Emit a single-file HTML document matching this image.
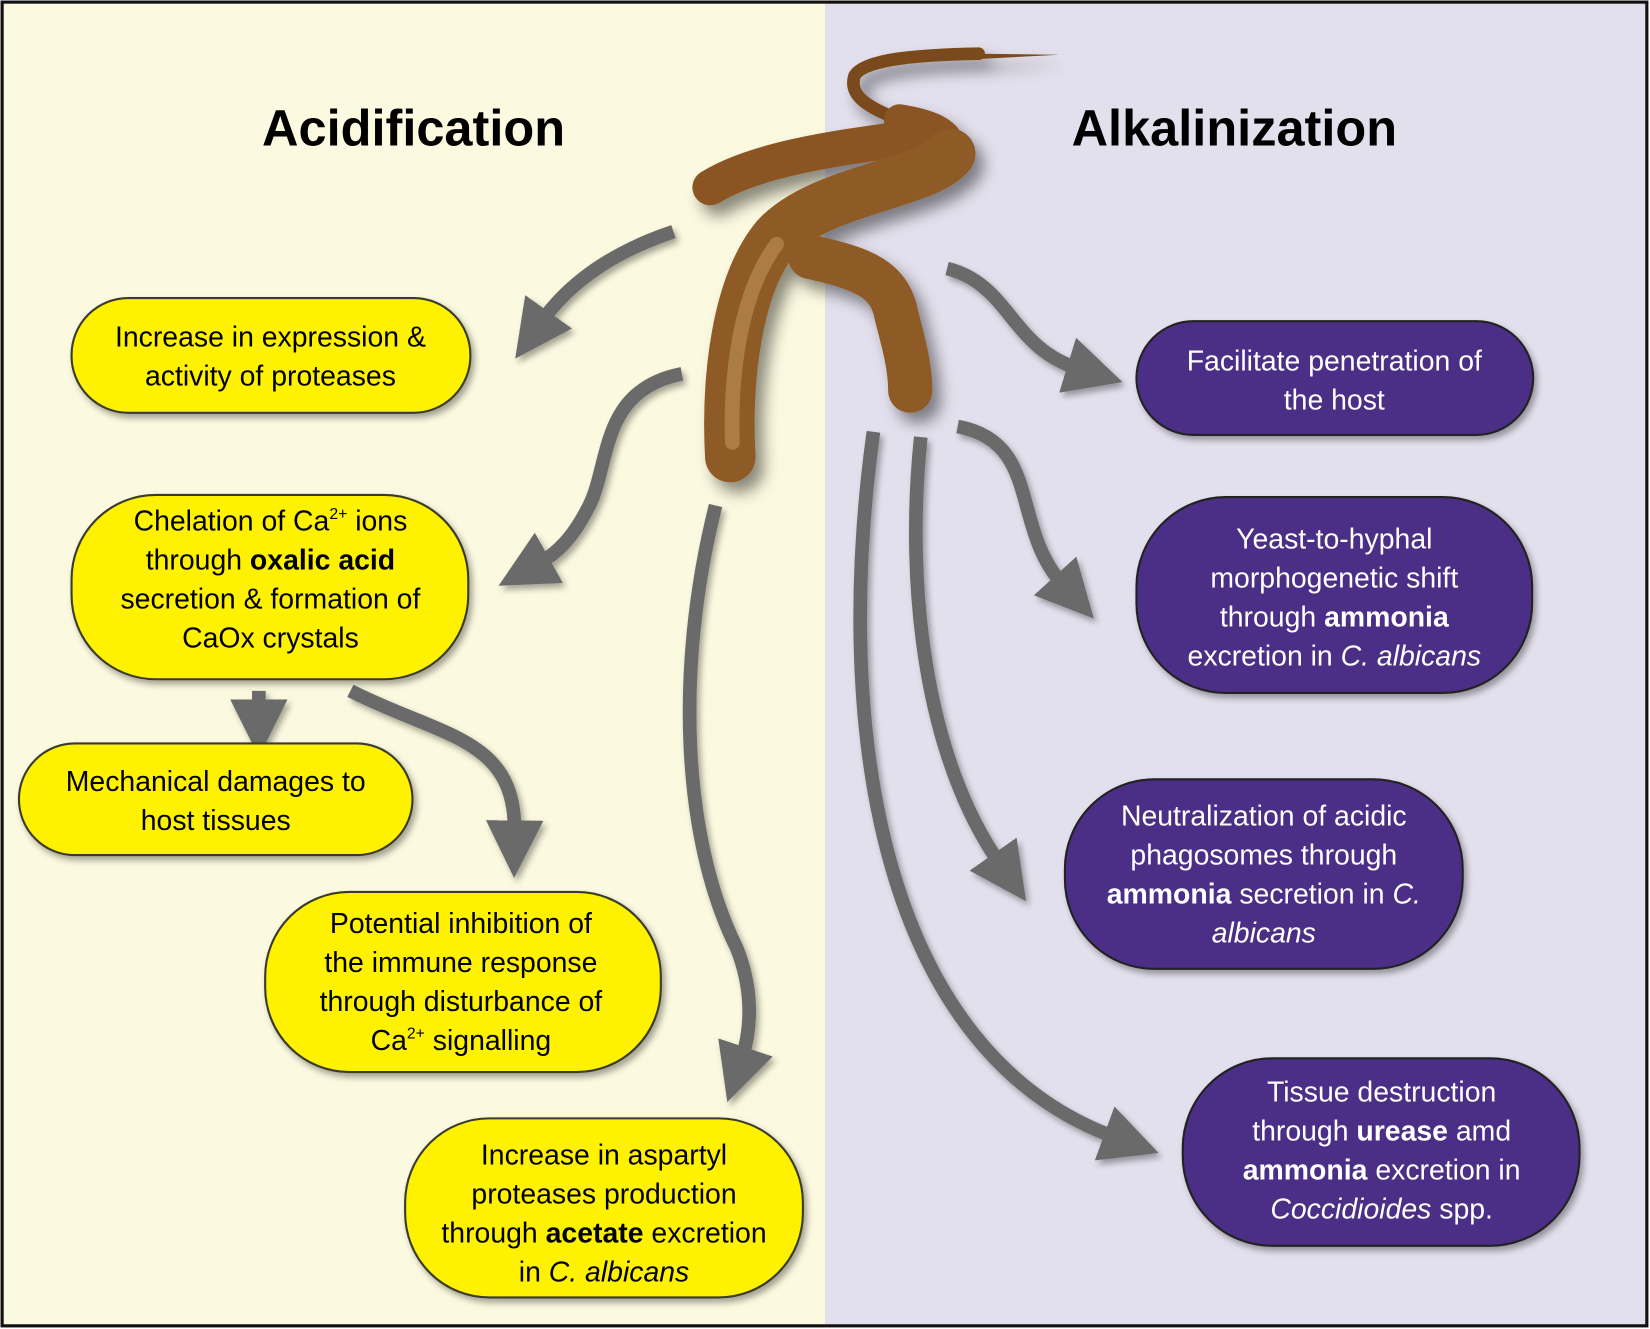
<!DOCTYPE html>
<html><head><meta charset="utf-8"><style>
html,body{margin:0;padding:0;background:#fff;}
svg{display:block;}
text{font-family:"Liberation Sans",sans-serif;}
</style></head><body>
<svg width="1650" height="1329" viewBox="0 0 1568 1262" preserveAspectRatio="none" xmlns="http://www.w3.org/2000/svg">
<defs>
<marker id="ah" viewBox="0 0 10 10" refX="2" refY="5" markerWidth="4.2" markerHeight="4.2" orient="auto" markerUnits="strokeWidth">
<path d="M0,0 L10,5 L0,10 z" fill="#6a6a6a"/>
</marker>
<filter id="sh" x="-10%" y="-10%" width="130%" height="130%"><feDropShadow dx="3" dy="4" stdDeviation="3" flood-color="#000" flood-opacity="0.35"/></filter>
<filter id="sh2" x="-20%" y="-20%" width="150%" height="150%"><feDropShadow dx="8" dy="10" stdDeviation="7" flood-color="#000" flood-opacity="0.45"/></filter>
</defs>
<rect x="0" y="0" width="1568" height="1262" fill="#fff"/>
<rect x="2" y="2" width="782" height="1257" fill="#fbf9df"/>
<rect x="784" y="2" width="782" height="1257" fill="#e3e0ed"/>
<rect x="2" y="2" width="1563" height="1257" fill="none" stroke="#111" stroke-width="3"/>

<text x="393" y="138" font-size="48" font-weight="bold" text-anchor="middle" fill="#000">Acidification</text>
<text x="1173" y="138" font-size="48" font-weight="bold" text-anchor="middle" fill="#000">Alkalinization</text>

<!-- arrows -->
<g fill="none" stroke="#6a6a6a" stroke-width="13" marker-end="url(#ah)" filter="url(#sh)">
<path d="M640,220 C580,240 540,270 515,305"/>
<path d="M648,355 C570,370 580,440 560,480 C545,510 530,525 512,535"/>
<path d="M680,480 C640,640 650,800 700,900 C720,950 710,990 705,1005"/>
<path d="M246,656 L246,675"/>
<path d="M333,656 C420,700 490,700 489,790"/>
<path d="M900,255 C960,270 960,330 1025,350"/>
<path d="M910,405 C990,420 960,500 1010,555"/>
<path d="M875,415 C860,560 880,720 950,820"/>
<path d="M830,410 C790,700 840,1000 1060,1080"/>
</g>

<!-- fungus -->
<g fill="none" stroke-linecap="round" stroke-linejoin="round" filter="url(#sh2)">
<path d="M855,114 C835,105 805,95 812,72 C822,55 880,52 930,51" stroke="#7a4a1c" stroke-width="12"/>
<path d="M930,51 L1007,52 L930,56 z" fill="#7a4a1c" stroke="none"/>
<path d="M675,178 C720,150 800,140 871,130" stroke="#8a5522" stroke-width="34"/>
<path d="M903,146 C905,125 880,118 855,114" stroke="#8a5522" stroke-width="30"/>
<path d="M770,244 C820,255 846,265 852,300 C860,330 865,350 865,371" stroke="#8e5a26" stroke-width="42"/>
<path d="M694,434 C690,360 700,270 738,225 C780,180 880,175 903,146" stroke="#8e5a26" stroke-width="48"/>
<path d="M696,420 C694,360 702,280 738,232" stroke="#c0915a" stroke-width="14" opacity="0.6"/>
</g>

<!-- yellow pills -->
<g fill="#fff200" stroke="#3a3a2a" stroke-width="2" filter="url(#sh)">
<rect x="68" y="283" width="379" height="109" rx="54"/>
<rect x="68" y="470" width="377" height="175" rx="80"/>
<rect x="18" y="706" width="374" height="106" rx="53"/>
<rect x="252" y="847" width="376" height="171" rx="80"/>
<rect x="385" y="1062" width="378" height="170" rx="80"/>
</g>
<!-- purple pills -->
<g fill="#4b2d86" stroke="#222" stroke-width="2" filter="url(#sh)">
<rect x="1080" y="305" width="377" height="108" rx="54"/>
<rect x="1080" y="472" width="376" height="186" rx="85"/>
<rect x="1012" y="740" width="378" height="180" rx="85"/>
<rect x="1124" y="1005" width="377" height="178" rx="85"/>
</g>

<g font-size="27" text-anchor="middle" fill="#000">
<text x="257" y="329">Increase in expression &amp;</text>
<text x="257" y="366">activity of proteases</text>
<text x="257" y="504">Chelation of Ca<tspan font-size="15" dy="-11">2+</tspan><tspan dy="11"> ions</tspan></text>
<text x="257" y="541">through <tspan font-weight="bold">oxalic acid</tspan></text>
<text x="257" y="578">secretion &amp; formation of</text>
<text x="257" y="615">CaOx crystals</text>
<text x="205" y="751">Mechanical damages to</text>
<text x="205" y="788">host tissues</text>
<text x="438" y="886">Potential inhibition of</text>
<text x="438" y="923">the immune response</text>
<text x="438" y="960">through disturbance of</text>
<text x="438" y="997">Ca<tspan font-size="15" dy="-11">2+</tspan><tspan dy="11"> signalling</tspan></text>
<text x="574" y="1106">Increase in aspartyl</text>
<text x="574" y="1143">proteases production</text>
<text x="574" y="1180">through <tspan font-weight="bold">acetate</tspan> excretion</text>
<text x="574" y="1217">in <tspan font-style="italic">C. albicans</tspan></text>
</g>
<g font-size="27" text-anchor="middle" fill="#fff">
<text x="1268" y="352">Facilitate penetration of</text>
<text x="1268" y="389">the host</text>
<text x="1268" y="521">Yeast-to-hyphal</text>
<text x="1268" y="558">morphogenetic shift</text>
<text x="1268" y="595">through <tspan font-weight="bold">ammonia</tspan></text>
<text x="1268" y="632">excretion in <tspan font-style="italic">C. albicans</tspan></text>
<text x="1201" y="784">Neutralization of acidic</text>
<text x="1201" y="821">phagosomes through</text>
<text x="1201" y="858"><tspan font-weight="bold">ammonia</tspan> secretion in <tspan font-style="italic">C.</tspan></text>
<text x="1201" y="895" font-style="italic">albicans</text>
<text x="1313" y="1046">Tissue destruction</text>
<text x="1313" y="1083">through <tspan font-weight="bold">urease</tspan> amd</text>
<text x="1313" y="1120"><tspan font-weight="bold">ammonia</tspan> excretion in</text>
<text x="1313" y="1157"><tspan font-style="italic">Coccidioides</tspan> spp.</text>
</g>
</svg>
</body></html>
